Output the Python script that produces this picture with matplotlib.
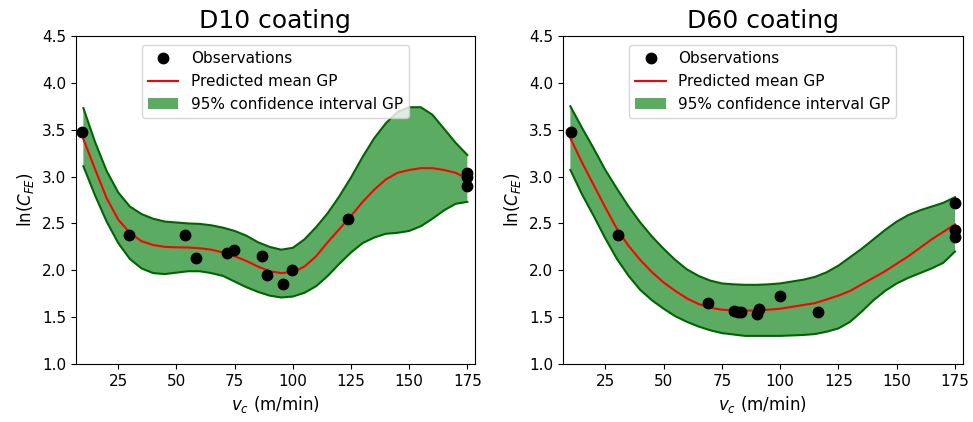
import matplotlib
matplotlib.use("Agg")
import matplotlib.pyplot as plt

# ---------------- data ----------------
titles = ["D10 coating", "D60 coating"]

grid_x = [10, 15, 20, 25, 30, 35, 40, 45, 50, 55, 60, 65, 70, 75, 80, 85, 90,
          95, 100, 105, 110, 115, 120, 125, 130, 135, 140, 145, 150, 155, 160,
          165, 170, 175]

# D10
d10_obs_x = [9.6, 29.6, 53.7, 58.6, 71.7, 74.7, 86.7, 88.7, 95.7, 99.7, 123.9, 174.7, 175.0, 175.0]
d10_obs_y = [3.48, 2.38, 2.38, 2.13, 2.18, 2.22, 2.15, 1.95, 1.85, 2.00, 2.55, 3.04, 3.00, 2.90]
d10_mean = [3.40, 3.08, 2.77, 2.54, 2.40, 2.31, 2.27, 2.25, 2.245, 2.243, 2.235, 2.22,
            2.19, 2.15, 2.10, 2.04, 1.99, 1.97, 1.98, 2.04, 2.15, 2.30, 2.44, 2.58,
            2.73, 2.86, 2.97, 3.04, 3.07, 3.09, 3.09, 3.07, 3.04, 2.98]
d10_upper = [3.73, 3.37, 3.06, 2.83, 2.68, 2.60, 2.55, 2.52, 2.51, 2.50, 2.495, 2.48,
             2.455, 2.42, 2.37, 2.30, 2.25, 2.22, 2.24, 2.33, 2.46, 2.61, 2.79, 2.99,
             3.21, 3.41, 3.57, 3.69, 3.74, 3.74, 3.66, 3.51, 3.36, 3.23]
d10_lower = [3.11, 2.80, 2.52, 2.29, 2.12, 2.02, 1.97, 1.96, 1.975, 1.99, 1.99, 1.97,
             1.94, 1.88, 1.82, 1.77, 1.73, 1.71, 1.72, 1.76, 1.83, 1.94, 2.07, 2.19,
             2.29, 2.35, 2.39, 2.40, 2.42, 2.47, 2.55, 2.64, 2.71, 2.73]

# D60
d60_obs_x = [10.3, 30.3, 69.2, 80.1, 81.8, 83.4, 90.1, 91.1, 100.1, 116.2, 174.9, 174.9, 174.9]
d60_obs_y = [3.48, 2.38, 1.65, 1.57, 1.56, 1.55, 1.53, 1.59, 1.73, 1.55, 2.72, 2.43, 2.36]
d60_mean = [3.41, 3.15, 2.91, 2.67, 2.44, 2.26, 2.11, 1.98, 1.87, 1.78, 1.70, 1.64,
            1.60, 1.58, 1.57, 1.57, 1.57, 1.58, 1.59, 1.61, 1.63, 1.65, 1.69, 1.73,
            1.78, 1.85, 1.92, 1.99, 2.07, 2.15, 2.24, 2.33, 2.41, 2.49]
d60_upper = [3.75, 3.52, 3.30, 3.07, 2.87, 2.68, 2.51, 2.36, 2.23, 2.11, 2.01, 1.94,
             1.89, 1.86, 1.85, 1.845, 1.845, 1.85, 1.86, 1.88, 1.90, 1.93, 1.98, 2.05,
             2.14, 2.23, 2.33, 2.43, 2.52, 2.59, 2.64, 2.68, 2.72, 2.78]
d60_lower = [3.07, 2.81, 2.58, 2.34, 2.12, 1.94, 1.79, 1.68, 1.59, 1.51, 1.45, 1.40,
             1.36, 1.33, 1.315, 1.30, 1.30, 1.30, 1.30, 1.305, 1.31, 1.32, 1.345, 1.38,
             1.45, 1.56, 1.68, 1.78, 1.86, 1.92, 1.97, 2.02, 2.08, 2.20]

x_ticks = [25, 50, 75, 100, 125, 150, 175]
y_ticks = [1.0, 1.5, 2.0, 2.5, 3.0, 3.5, 4.0, 4.5]

panels = [
    (d10_obs_x, d10_obs_y, d10_mean, d10_upper, d10_lower),
    (d60_obs_x, d60_obs_y, d60_mean, d60_upper, d60_lower),
]

# ---------------- plot ----------------
fig = plt.figure(figsize=(9.73, 4.22), dpi=100)
axes_pos = [[0.0778, 0.1374, 0.4104, 0.7773],
            [0.5783, 0.1374, 0.4111, 0.7773]]

fill_col = (0.36, 0.67, 0.39)
edge_col = "#006400"

for pos, title, (ox, oy, m, up, lo) in zip(axes_pos, titles, panels):
    ax = fig.add_axes(pos)
    ax.plot(ox, oy, "o", color="black", markersize=7.5, label="Observations", zorder=5)
    ax.plot(grid_x, m, "-", color="red", lw=1.5, label="Predicted mean GP", zorder=4)
    ax.fill_between(grid_x, lo, up, facecolor=fill_col, edgecolor="none",
                    label="95% confidence interval GP", zorder=2)
    ax.plot(grid_x, up, "-", color=edge_col, lw=1.5, zorder=3)
    ax.plot(grid_x, lo, "-", color=edge_col, lw=1.5, zorder=3)
    ax.set_xlim(6.7, 178.3)
    ax.set_ylim(1.0, 4.5)
    ax.set_xticks(x_ticks)
    ax.set_yticks(y_ticks)
    ax.tick_params(labelsize=11)
    ax.set_title(title, fontsize=18)
    ax.set_xlabel(r"$v_c$ (m/min)", fontsize=12)
    ax.set_ylabel(r"ln($C_{FE}$)", fontsize=12)
    ax.legend(loc="upper center", fontsize=11, borderaxespad=0.6)

fig.savefig("out.png", dpi=100)
